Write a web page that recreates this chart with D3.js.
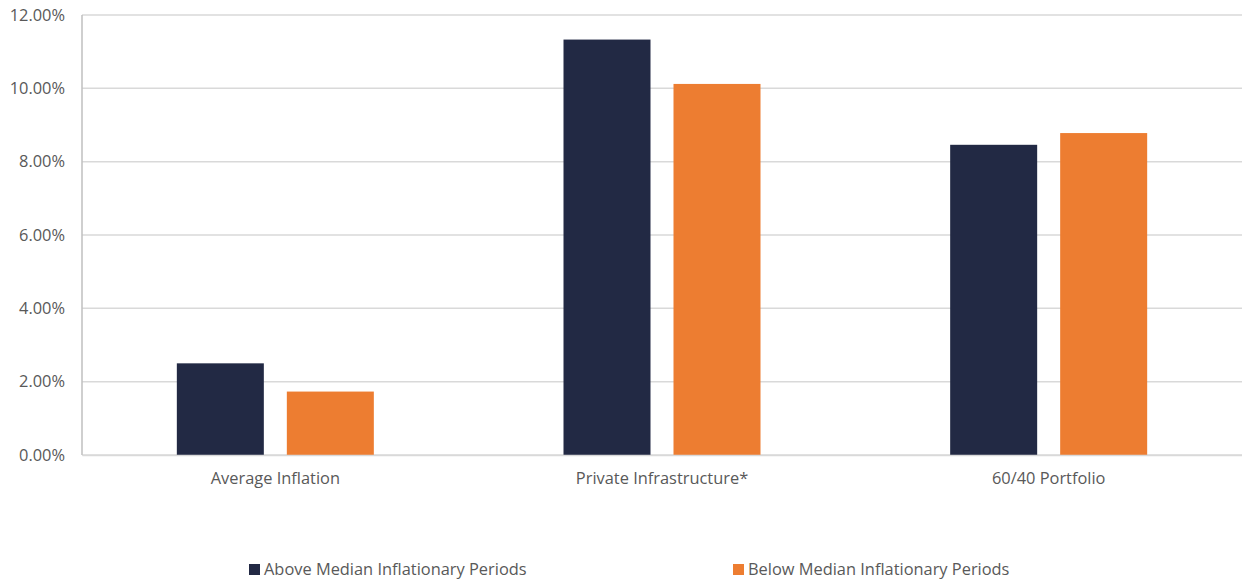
<!DOCTYPE html>
<html>
<head>
<meta charset="utf-8">
<script src="https://cdn.jsdelivr.net/npm/d3@7"></script>
<style>
  html, body { margin: 0; padding: 0; background: #fff; }
  svg text { font-family: "Open Sans", Lato, sans-serif; fill: #595959; }
</style>
</head>
<body>
<svg id="chart" width="1242" height="581"></svg>
<script>
// Chart data
const categories = ["Average Inflation", "Private Infrastructure*", "60/40 Portfolio"];
const seriesNames = ["Above Median Inflationary Periods", "Below Median Inflationary Periods"];
const aboveMedian = [2.50, 11.33, 8.46];
const belowMedian = [1.73, 10.12, 8.78];
const yTicks = [0, 2, 4, 6, 8, 10, 12];
const seriesColors = ["#222944", "#ED7D31"];

const svg = d3.select("#chart");
const margin = { left: 82, right: 0, top: 15, bottom: 126 };
const W = 1242, H = 581;
const plotW = W - margin.left - margin.right;
const plotH = H - margin.top - margin.bottom;
const fontSize = "16.4px";

const rows = categories.map((c, i) => ({ cat: c, values: [aboveMedian[i], belowMedian[i]] }));

const x0 = d3.scaleBand().domain(categories).range([margin.left, margin.left + plotW]).paddingInner(0).paddingOuter(0);
const y = d3.scaleLinear().domain([0, 12]).range([margin.top + plotH, margin.top]);

// Bars sit 23px apart, each 87px wide, centered in the band
const barW = 87, barGap = 23;
const x1 = i => (x0.bandwidth() - (2 * barW + barGap)) / 2 + i * (barW + barGap);

// Gridlines
svg.append("g")
  .selectAll("line")
  .data(yTicks)
  .join("line")
  .attr("x1", margin.left)
  .attr("x2", W)
  .attr("y1", d => y(d))
  .attr("y2", d => y(d))
  .attr("stroke", "#d9d9d9")
  .attr("stroke-width", 1.5);

// Y axis labels
const yAxis = d3.axisLeft(y).tickValues(yTicks).tickFormat(d => d3.format(".2f")(d) + "%").tickSize(0).tickPadding(17);
const gy = svg.append("g").attr("transform", `translate(${margin.left},0)`).call(yAxis);
gy.select(".domain").remove();
gy.selectAll("text").style("font-size", fontSize).attr("fill", "#595959");

// Bars
const groups = svg.append("g")
  .selectAll("g")
  .data(rows)
  .join("g")
  .attr("transform", d => `translate(${x0(d.cat)},0)`);

groups.selectAll("rect")
  .data(d => d.values.map((v, i) => ({ v, i })))
  .join("rect")
  .attr("x", d => x1(d.i))
  .attr("width", barW)
  .attr("y", d => y(d.v))
  .attr("height", d => y(0) - y(d.v))
  .attr("fill", d => seriesColors[d.i]);

// Left axis line
svg.append("line")
  .attr("x1", margin.left).attr("x2", margin.left)
  .attr("y1", y(12)).attr("y2", y(0))
  .attr("stroke", "#bfbfbf").attr("stroke-width", 1.5);

// X axis labels
const xAxis = d3.axisBottom(x0).tickSize(0).tickPadding(17);
const gx = svg.append("g").attr("transform", `translate(0,${y(0)})`).call(xAxis);
gx.select(".domain").attr("stroke", "#d9d9d9").attr("stroke-width", 1.5);
gx.selectAll("text").style("font-size", fontSize).attr("fill", "#595959");
svg.selectAll(".tick text").attr("font-family", null);

// Legend
const legendX = [249, 733];
const legend = svg.append("g")
  .selectAll("g")
  .data(seriesNames)
  .join("g")
  .attr("transform", (d, i) => `translate(${legendX[i]},564)`);
legend.append("rect").attr("width", 11).attr("height", 11).attr("fill", (d, i) => seriesColors[i]);
legend.append("text")
  .attr("x", 15).attr("y", 5.5).attr("dy", "0.35em")
  .style("font-size", fontSize)
  .text(d => d);
</script>
</body>
</html>
